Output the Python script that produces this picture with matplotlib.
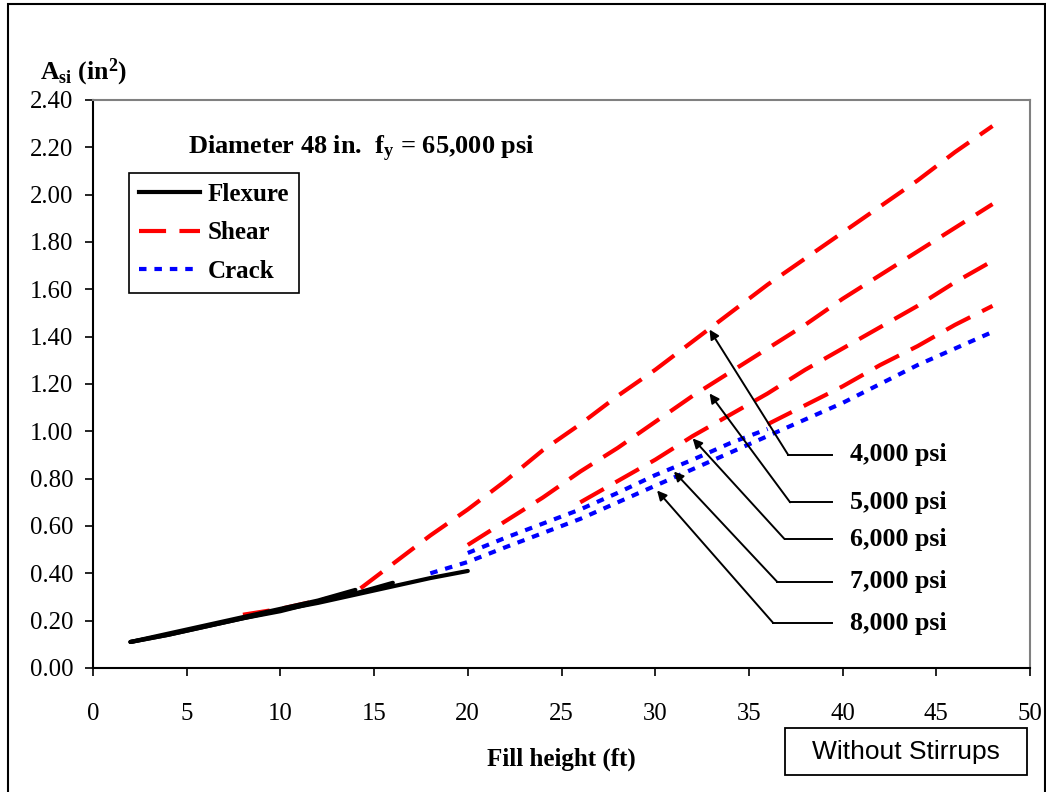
import numpy as np
import matplotlib
matplotlib.use('Agg')
import matplotlib.pyplot as plt
from matplotlib.lines import Line2D
from matplotlib.patches import Rectangle

plt.rcParams['font.family'] = ['Liberation Serif', 'DejaVu Serif']
plt.rcParams['mathtext.fontset'] = 'custom'
plt.rcParams['mathtext.rm'] = 'Liberation Serif'
plt.rcParams['mathtext.bf'] = 'Liberation Serif:bold'
plt.rcParams['mathtext.it'] = 'Liberation Serif:italic'

# flexure (governs at low fill), one line per concrete strength
flex_x_a = [2, 4, 6, 8, 10, 12, 14]
flex_a = [0.11, 0.145, 0.18, 0.215, 0.25, 0.285, 0.33]
flex_x_b = [2, 4, 6, 8, 10, 12, 14, 16, 18, 20]
flex_b = [0.11, 0.14, 0.175, 0.21, 0.245, 0.275, 0.31, 0.345, 0.38, 0.41]
flex_x_c = [2, 4, 6, 8, 10, 12, 14, 16]
flex_c = [0.11, 0.14, 0.175, 0.21, 0.24, 0.28, 0.315, 0.36]

# shear
shear_x_4000 = [8, 10, 12, 14, 16, 18, 20, 22, 24, 26, 28, 30, 32, 34, 36, 38, 40, 42, 44, 46, 48]
shear_4000 = [0.225, 0.25, 0.285, 0.32, 0.44, 0.56, 0.67, 0.79, 0.92, 1.03, 1.15, 1.26, 1.38,
              1.50, 1.62, 1.73, 1.84, 1.95, 2.06, 2.18, 2.29]
shear_x_5000 = [20, 22, 24, 26, 28, 30, 32, 34, 36, 38, 40, 42, 44, 46, 48]
shear_5000 = [0.52, 0.62, 0.72, 0.83, 0.93, 1.04, 1.15, 1.25, 1.35, 1.45, 1.56, 1.66, 1.76, 1.86, 1.96]
shear_x_6000 = [26, 28, 30, 32, 34, 36, 38, 40, 42, 44, 46, 48]
shear_6000 = [0.70, 0.79, 0.88, 0.98, 1.07, 1.16, 1.26, 1.35, 1.44, 1.53, 1.63, 1.72]
shear_x_7000 = [36, 38, 40, 42, 44, 46, 48]
shear_7000 = [1.03, 1.11, 1.19, 1.28, 1.36, 1.45, 1.53]

# crack
crack_x_7000 = [20, 22, 24, 26, 28, 30, 32, 34, 36]
crack_7000 = [0.486, 0.55, 0.61, 0.67, 0.74, 0.815, 0.88, 0.95, 1.01]
crack_x_8000 = [18, 20, 22, 24, 26, 28, 30, 32, 34, 36, 38, 40, 42, 44, 46, 48]
crack_8000 = [0.40, 0.448, 0.51, 0.57, 0.63, 0.70, 0.77, 0.84, 0.91, 0.98, 1.05, 1.12,
              1.20, 1.28, 1.35, 1.42]

# strength call-outs
psi_labels = ['4,000 psi', '5,000 psi', '6,000 psi', '7,000 psi', '8,000 psi']
label_y = [0.90, 0.70, 0.545, 0.365, 0.19]
elbow_x = [37.1, 37.2, 36.9, 36.5, 36.3]
tip_x = [32.9, 32.9, 32.0, 31.0, 30.1]
tip_y = [1.43, 1.16, 0.97, 0.83, 0.75]

fig = plt.figure(figsize=(10.46, 7.92), dpi=100)
ax = fig.add_axes([93/1046, 1 - 668/792, 937/1046, 568/792])

red = '#FF0000'
blue = '#0000FF'
lw = 3.0

ax.plot(crack_x_7000, crack_7000, color=blue, lw=lw, dashes=(1.8, 1.9), zorder=2)
ax.plot(crack_x_8000, crack_8000, color=blue, lw=lw, dashes=(1.8, 1.9), zorder=2)
for xs, ys in [(shear_x_4000, shear_4000), (shear_x_5000, shear_5000),
               (shear_x_6000, shear_6000), (shear_x_7000, shear_7000)]:
    ax.plot(xs, ys, color=red, lw=lw, dashes=(6.5, 3.2), zorder=3)
for xs, ys in [(flex_x_a, flex_a), (flex_x_b, flex_b), (flex_x_c, flex_c)]:
    ax.plot(xs, ys, color='black', lw=lw, zorder=4, solid_capstyle='round')

for lab, ly, ex, tx, ty in zip(psi_labels, label_y, elbow_x, tip_x, tip_y):
    ax.plot([ex, 39.43], [ly, ly], color='black', lw=1.4, zorder=5)
    ax.annotate('', xy=(tx, ty), xytext=(ex, ly),
                arrowprops=dict(arrowstyle='-|>', color='black', lw=1.4,
                                mutation_scale=14, shrinkA=0, shrinkB=0), zorder=5)
    ax.text(40.4, ly, lab, fontsize=18.7, fontweight='bold', va='center', ha='left')

ax.set_xlim(0, 50)
ax.set_ylim(0, 2.4)
ax.set_xticks(np.arange(0, 51, 5))
ax.set_yticks(np.arange(0, 2.41, 0.2))
ax.set_yticklabels(['%.2f' % v for v in np.arange(0, 2.41, 0.2)])
ax.tick_params(axis='both', direction='out', length=6, width=1.2, labelsize=17.8)
ax.tick_params(axis='x', pad=19.5)
ax.tick_params(axis='y', pad=8)

for s in ['left', 'bottom']:
    ax.spines[s].set_color('black')
    ax.spines[s].set_linewidth(1.5)
for s in ['top', 'right']:
    ax.spines[s].set_color('#808080')
    ax.spines[s].set_linewidth(1.5)

ax.text(0.1014, 0.914, r'Diameter 48 in.  f$_\mathbf{y}$ = 65,000 psi',
        transform=ax.transAxes, fontsize=19, fontweight='bold', va='center', ha='left')

handles = [Line2D([], [], color='black', lw=lw),
           Line2D([], [], color=red, lw=lw, dashes=(6.5, 3.2)),
           Line2D([], [], color=blue, lw=lw, dashes=(1.8, 1.9))]
leg = ax.legend(handles, ['Flexure', 'Shear', 'Crack'], loc='upper left',
                bbox_to_anchor=(0.0384, 0.8715), borderaxespad=0,
                prop={'size': 18, 'weight': 'bold'}, handlelength=2.45,
                handletextpad=0.3, labelspacing=0.62, borderpad=0.4,
                fancybox=False, framealpha=1, edgecolor='black')
leg.get_frame().set_linewidth(1.2)

ax.set_xlabel('Fill height (ft)', fontsize=18, fontweight='bold', labelpad=16)

fig.text(40/1046, 1 - 79/792, r'$\mathbf{A_{si}}$ (in$^\mathbf{2}$)', fontsize=18.5,
         fontweight='bold', va='baseline', ha='left')

# figure frame (bottom edge cut off in the original)
fig.patches.append(Rectangle((8/1046, -0.02), 1037/1046, 1.02 - 4/792,
                             transform=fig.transFigure, fill=False,
                             edgecolor='black', lw=1.5))

fig.patches.append(Rectangle((785/1046, 1 - 775/792), 242/1046, 47/792,
                             transform=fig.transFigure, fill=False,
                             edgecolor='black', lw=1.3))
fig.text(906/1046, 1 - 752/792, 'Without Stirrups', fontsize=19,
         family=['Liberation Sans', 'DejaVu Sans'], ha='center', va='center')

fig.savefig('out.png', dpi=100)
